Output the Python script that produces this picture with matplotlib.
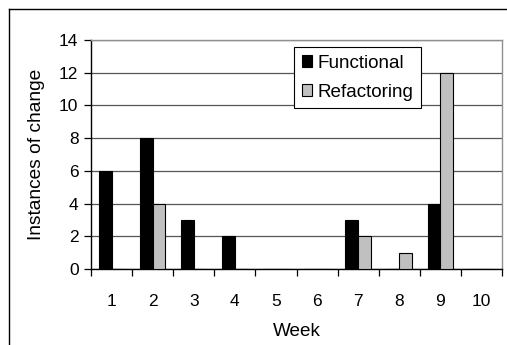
import matplotlib
matplotlib.use("Agg")
import matplotlib.pyplot as plt
from matplotlib.lines import Line2D
import numpy as np

weeks = ["1", "2", "3", "4", "5", "6", "7", "8", "9", "10"]
functional = [6, 8, 3, 2, 0, 0, 3, 0, 4, 0]
refactoring = [0, 4, 0, 0, 0, 0, 2, 1, 12, 0]
series_names = ["Functional", "Refactoring"]
y_ticks = [0, 2, 4, 6, 8, 10, 12, 14]

plt.rcParams["font.family"] = ["Liberation Sans", "DejaVu Sans"]

W, H = 507, 345
fig = plt.figure(figsize=(W / 100, H / 100), dpi=100)
fig.patch.set_facecolor("white")

# axes box in pixel units
left, right, top, bottom = 91, 502, 40, 269
ax = fig.add_axes([left / W, 1 - bottom / H, (right - left) / W, (bottom - top) / H])

x = np.arange(len(weeks))
bw = 0.31
ax.bar(x - bw / 2, functional, width=bw, color="black", edgecolor="black",
       linewidth=0.8, label=series_names[0], zorder=3)
ax.bar(x + bw / 2, refactoring, width=bw, color="#C0C0C0", edgecolor="black",
       linewidth=0.8, label=series_names[1], zorder=3)

ax.set_xlim(-0.5, len(weeks) - 0.5)
ax.set_ylim(0, 14)
ax.set_yticks(y_ticks)
ax.set_yticklabels([str(v) for v in y_ticks], fontsize=12.5)
ax.yaxis.grid(True, color="#555555", linewidth=0.9, zorder=0)
ax.set_axisbelow(True)

# category labels centred, tick marks on the boundaries
ax.set_xticks(x)
ax.set_xticklabels(weeks, fontsize=12.5)
ax.tick_params(axis="x", which="major", length=0, pad=18)
ax.set_xticks(np.arange(-0.5, len(weeks) + 0.5, 1), minor=True)
ax.tick_params(axis="x", which="minor", length=5, width=0.9, direction="out", color="black")
ax.tick_params(axis="y", length=5, width=0.9, direction="out", pad=4)

for s in ["top", "right"]:
    ax.spines[s].set_color("#909090")
    ax.spines[s].set_linewidth(1.0)
for s in ["left", "bottom"]:
    ax.spines[s].set_color("black")
    ax.spines[s].set_linewidth(1.0)

ax.set_ylabel("Instances of change", fontsize=13.8, labelpad=10)
ax.set_xlabel("Week", fontsize=13.6, labelpad=10)

leg = ax.legend(loc="upper left", bbox_to_anchor=((294 - left) / (right - left), 1 - (47 - top) / (bottom - top)),
                fontsize=13.6, frameon=True, fancybox=False, framealpha=1,
                edgecolor="black", handlelength=0.55, handleheight=0.55,
                handletextpad=0.3, borderpad=0.4, labelspacing=0.65,
                borderaxespad=0)
leg.get_frame().set_linewidth(0.8)

# outer chart frame (runs off the right and bottom edges)
fig.add_artist(Line2D([9 / W, 1.0], [1 - 9 / H, 1 - 9 / H], color="black", linewidth=1.0,
                      transform=fig.transFigure))
fig.add_artist(Line2D([9 / W, 9 / W], [0.0, 1 - 9 / H], color="black", linewidth=1.0,
                      transform=fig.transFigure))

fig.savefig("out.png", dpi=100)
